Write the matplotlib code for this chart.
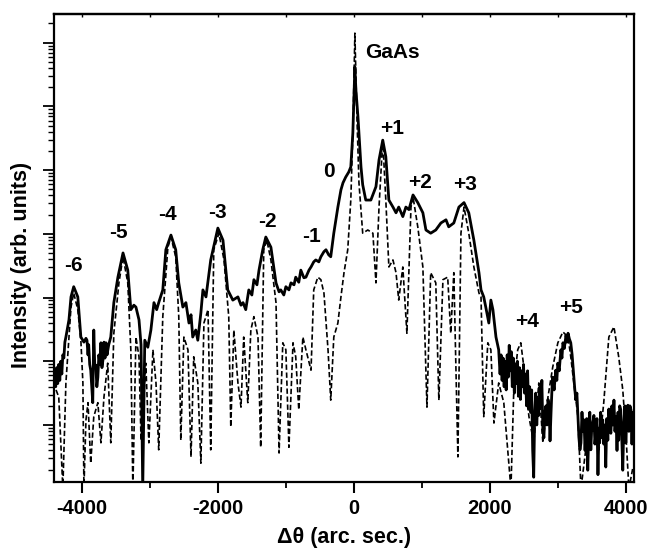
import numpy as np
import matplotlib
matplotlib.use("Agg")
import matplotlib.pyplot as plt
from matplotlib.ticker import LogLocator, NullFormatter, MultipleLocator

plt.rcParams['font.family'] = ['Liberation Sans', 'DejaVu Sans']
plt.rcParams['font.weight'] = 'bold'
plt.rcParams['axes.unicode_minus'] = False

# experimental curve: (angle in arc sec, log10 intensity)
exp_points = [
    (-4400, 1.85), (-4385, 1.60), (-4370, 1.90), (-4355, 1.65), (-4340, 1.95), (-4325, 1.70),
    (-4310, 2.00), (-4295, 1.80), (-4280, 2.10), (-4265, 2.05), (-4250, 2.30), (-4235, 2.38),
    (-4190, 2.65), (-4160, 3.01), (-4120, 3.17), (-4060, 3.01), (-4015, 2.38), (-3970, 2.30),
    (-3940, 2.36), (-3925, 2.33), (-3910, 2.10), (-3900, 2.26), (-3885, 1.95), (-3870, 1.86),
    (-3855, 1.60), (-3840, 1.35), (-3825, 2.49), (-3810, 1.90), (-3795, 1.94), (-3780, 1.60),
    (-3765, 1.75), (-3750, 2.10), (-3735, 1.95), (-3720, 2.29), (-3705, 1.90), (-3690, 2.02),
    (-3675, 2.30), (-3660, 2.05), (-3645, 2.29), (-3630, 2.10), (-3605, 2.26), (-3575, 2.38),
    (-3530, 2.92), (-3470, 3.32), (-3395, 3.70), (-3325, 3.43), (-3280, 2.81), (-3235, 2.88),
    (-3205, 2.85), (-3160, 2.65), (-3130, 2.26), (-3105, 0.00), (-3075, 2.33), (-3030, 2.22),
    (-2985, 2.49), (-2940, 2.92), (-2900, 2.81), (-2870, 2.92), (-2810, 3.12), (-2765, 3.75),
    (-2690, 3.98), (-2620, 3.75), (-2575, 3.23), (-2515, 2.85), (-2470, 2.92), (-2425, 2.60),
    (-2395, 2.73), (-2370, 2.38), (-2325, 2.49), (-2295, 2.33), (-2250, 2.76), (-2220, 3.12),
    (-2175, 3.01), (-2105, 3.59), (-2000, 4.09), (-1925, 3.90), (-1855, 3.12), (-1780, 2.96),
    (-1705, 3.01), (-1660, 2.88), (-1630, 2.92), (-1590, 2.81), (-1545, 3.12), (-1500, 3.04),
    (-1470, 3.28), (-1425, 3.20), (-1395, 3.43), (-1340, 3.75), (-1295, 3.95), (-1220, 3.79),
    (-1145, 3.23), (-1100, 3.09), (-1075, 3.12), (-1030, 3.04), (-1000, 3.17), (-955, 3.12),
    (-925, 3.23), (-880, 3.20), (-855, 3.32), (-810, 3.24), (-780, 3.43), (-735, 3.31),
    (-705, 3.32), (-660, 3.43), (-630, 3.48), (-590, 3.56), (-560, 3.59), (-515, 3.56),
    (-485, 3.64), (-440, 3.72), (-410, 3.75), (-370, 3.67), (-340, 3.64), (-295, 4.01),
    (-235, 4.42), (-190, 4.69), (-160, 4.80), (-120, 4.89), (-75, 4.97), (-45, 5.05),
    (-15, 5.58), (15, 6.62), (30, 6.26), (60, 5.84), (105, 5.05), (130, 4.77), (175, 4.53),
    (250, 4.53), (325, 4.74), (370, 5.16), (425, 5.47), (470, 5.21), (515, 4.53), (575, 4.42),
    (620, 4.33), (660, 4.42), (720, 4.27), (765, 4.42), (810, 4.38), (870, 4.61), (940, 4.49),
    (1015, 4.33), (1060, 4.06), (1130, 4.01), (1205, 4.06), (1280, 4.17), (1355, 4.22),
    (1395, 4.11), (1470, 4.17), (1545, 4.42), (1620, 4.49), (1690, 4.33), (1765, 3.90),
    (1840, 3.39), (1870, 3.12), (1910, 3.01), (1940, 2.85), (1985, 2.60), (2015, 2.96),
    (2045, 2.81), (2090, 2.38), (2130, 2.18), (2150, 1.80), (2165, 2.10), (2180, 1.70),
    (2195, 2.05), (2210, 1.60), (2225, 2.00), (2240, 1.55), (2255, 2.10), (2270, 1.75),
    (2285, 2.25), (2300, 1.85), (2315, 2.15), (2330, 1.60), (2345, 2.05), (2360, 1.50),
    (2375, 1.95), (2390, 1.65), (2405, 2.00), (2420, 1.45), (2435, 1.90), (2450, 1.40),
    (2465, 1.85), (2480, 1.60), (2495, 1.95), (2510, 1.50), (2525, 1.80), (2540, 1.30),
    (2555, 1.85), (2570, 1.25), (2585, 1.60), (2600, 1.20), (2615, 1.55), (2630, 0.60),
    (2645, 0.18), (2660, 1.20), (2675, 1.50), (2690, 1.00), (2705, 1.40), (2720, 1.15),
    (2735, 1.60), (2750, 1.30), (2765, 1.70), (2780, 0.90), (2795, 0.80), (2810, 1.20),
    (2825, 1.30), (2840, 1.00), (2855, 1.40), (2870, 1.30), (2885, 0.75), (2900, 1.20),
    (2915, 1.60), (2925, 1.75), (2945, 1.55), (2970, 1.86), (2985, 1.70), (3000, 1.97),
    (3020, 1.85), (3045, 2.18), (3060, 2.05), (3075, 2.29), (3095, 2.20), (3120, 2.41),
    (3135, 2.30), (3150, 2.44), (3170, 2.35), (3190, 2.29), (3210, 2.10), (3235, 1.75),
    (3250, 1.55), (3265, 1.39), (3280, 1.50), (3295, 1.13), (3310, 0.80), (3325, 0.61),
    (3340, 0.72), (3355, 1.20), (3370, 0.90), (3385, 1.08), (3400, 0.60), (3410, 0.87),
    (3425, 1.10), (3440, 0.29), (3455, 0.90), (3470, 1.20), (3485, 0.61), (3500, 1.00),
    (3515, 0.92), (3530, 1.15), (3545, 0.70), (3560, 0.87), (3575, 1.10), (3590, 0.22),
    (3605, 0.95), (3615, 0.72), (3630, 1.20), (3645, 0.80), (3660, 1.08), (3675, 0.70),
    (3690, 1.00), (3705, 0.34), (3720, 1.10), (3735, 0.76), (3750, 1.25), (3765, 0.95),
    (3780, 0.87), (3795, 1.30), (3810, 1.00), (3825, 1.39), (3840, 0.90), (3855, 1.13),
    (3870, 0.60), (3885, 1.20), (3895, 0.76), (3910, 1.30), (3925, 1.24), (3940, 0.80),
    (3955, 0.29), (3970, 1.00), (3985, 1.30), (4000, 0.72), (4015, 1.10), (4030, 1.31),
    (4045, 0.90), (4060, 1.30), (4075, 1.24), (4090, 0.70), (4105, 1.20), (4120, 0.87),
]

# simulated curve: (angle in arc sec, log10 intensity)
sim_points = [
    (-4380, 1.55), (-4340, 1.44), (-4280, 0.00), (-4235, 1.66), (-4160, 2.85), (-4120, 3.07),
    (-4060, 2.81), (-4015, 2.33), (-3985, 1.66), (-3970, 0.00), (-3940, 1.08), (-3910, 1.35),
    (-3870, 0.40), (-3825, 1.13), (-3765, 1.35), (-3720, 0.72), (-3675, 1.44), (-3620, 1.97),
    (-3575, 0.72), (-3530, 2.44), (-3455, 3.23), (-3395, 3.64), (-3325, 3.23), (-3280, 2.18),
    (-3250, 0.00), (-3205, 2.38), (-3160, 2.07), (-3130, 0.76), (-3060, 1.97), (-3015, 0.72),
    (-2955, 2.18), (-2910, 1.66), (-2870, 0.61), (-2810, 2.70), (-2735, 3.79), (-2690, 3.95),
    (-2620, 3.64), (-2575, 2.70), (-2545, 0.76), (-2500, 2.38), (-2440, 2.18), (-2395, 0.50),
    (-2355, 2.07), (-2295, 1.66), (-2250, 0.40), (-2205, 2.60), (-2145, 2.81), (-2105, 0.61),
    (-2060, 3.75), (-1985, 4.01), (-1910, 3.59), (-1840, 2.70), (-1810, 0.97), (-1765, 2.49),
    (-1705, 1.66), (-1660, 1.28), (-1620, 2.38), (-1560, 1.35), (-1515, 2.49), (-1470, 2.70),
    (-1410, 2.38), (-1370, 0.65), (-1325, 3.75), (-1280, 3.90), (-1220, 3.59), (-1145, 2.92),
    (-1100, 0.56), (-1045, 2.29), (-1000, 2.18), (-955, 0.65), (-895, 2.29), (-855, 2.07),
    (-810, 1.24), (-750, 2.38), (-705, 2.18), (-630, 1.86), (-590, 3.12), (-530, 3.32),
    (-485, 3.28), (-440, 3.07), (-380, 2.18), (-340, 1.39), (-295, 2.38), (-235, 2.60),
    (-190, 3.01), (-145, 3.39), (-90, 3.75), (-45, 4.53), (-15, 5.58), (15, 7.15),
    (45, 5.84), (75, 4.80), (130, 4.01), (205, 4.06), (280, 4.01), (325, 3.23), (370, 4.42),
    (425, 5.47), (470, 4.53), (515, 3.48), (575, 3.59), (620, 3.39), (660, 2.96), (720, 3.48),
    (780, 2.44), (840, 4.42), (870, 4.58), (940, 4.11), (1015, 3.48), (1075, 1.28), (1130, 3.39),
    (1205, 3.23), (1250, 1.39), (1310, 3.28), (1380, 3.32), (1425, 2.44), (1470, 3.39),
    (1530, 0.50), (1575, 4.01), (1620, 4.42), (1690, 4.01), (1765, 3.48), (1840, 3.07),
    (1870, 3.01), (1910, 1.13), (1970, 2.29), (2015, 2.18), (2060, 1.03), (2130, 1.66),
    (2205, 1.35), (2310, 0.00), (2355, 1.66), (2410, 2.18), (2455, 2.29), (2500, 1.91),
    (2575, 1.13), (2645, 0.72), (2720, 1.66), (2780, 0.72), (2855, 1.44), (2925, 1.91),
    (3000, 2.29), (3075, 2.46), (3150, 2.38), (3190, 2.07), (3235, 1.66), (3295, 1.13),
    (3340, 0.00), (3440, 0.87), (3530, 1.13), (3605, 0.61), (3675, 1.35), (3750, 2.38),
    (3825, 2.54), (3895, 2.07), (3955, 1.55), (4000, 0.87), (4045, 0.00), (4105, 0.34),
]

peak_labels = ['-6', '-5', '-4', '-3', '-2', '-1', '0', '+1', '+2', '+3', '+4', '+5', 'GaAs']
label_theta = [-4120, -3460, -2740, -2000, -1270, -620, -370, 560, 980, 1640, 2540, 3200, 570]
label_logI = [3.50, 4.02, 4.30, 4.34, 4.20, 3.96, 4.98, 5.65, 4.80, 4.77, 2.62, 2.84, 6.84]

exp_theta = np.array([p[0] for p in exp_points])
exp_logI = np.array([p[1] for p in exp_points])
sim_theta = np.array([p[0] for p in sim_points])
sim_logI = np.array([p[1] for p in sim_points])

fig = plt.figure(figsize=(6.52, 5.5), dpi=100)
ax = fig.add_axes([54/652, 1-482/550, 580/652, 468/550])

ax.plot(sim_theta, 10**sim_logI, color='black', lw=1.2, dashes=(3.2, 1.6))
ax.plot(exp_theta, 10**exp_logI, color='black', lw=2.0)

ax.set_yscale('log')
ax.set_xlim(-4410, 4120)
ax.set_ylim(10**0.105, 10**7.45)

for lab, x, l in zip(peak_labels, label_theta, label_logI):
    ax.text(x, 10**l, lab, ha='center', va='center', fontsize=15, fontweight='bold')

ax.xaxis.set_major_locator(MultipleLocator(2000))
ax.xaxis.set_minor_locator(MultipleLocator(1000))
ax.yaxis.set_major_locator(LogLocator(base=10, numticks=20))
ax.yaxis.set_minor_locator(LogLocator(base=10, subs=np.arange(2, 10), numticks=20))
ax.yaxis.set_major_formatter(NullFormatter())
ax.yaxis.set_minor_formatter(NullFormatter())

ax.tick_params(axis='x', which='major', direction='out', length=8, width=1.5,
               labelsize=14.5, pad=4, top=False)
ax.tick_params(axis='x', which='minor', direction='out', length=4, width=1.3, top=False)
ax.tick_params(axis='y', which='major', direction='out', length=8, width=1.3)
ax.tick_params(axis='y', which='minor', direction='out', length=4, width=1.0)
for lbl in ax.get_xticklabels():
    lbl.set_fontweight('bold')
for s in ax.spines.values():
    s.set_linewidth(1.6)

# small inward ticks on the top frame
top = ax.secondary_xaxis('top')
top.xaxis.set_major_locator(MultipleLocator(1000))
top.tick_params(axis='x', which='major', direction='in', length=2.5, width=1.0,
                labeltop=False)
top.xaxis.set_minor_locator(MultipleLocator(1000))
top.tick_params(axis='x', which='minor', length=0)
top.spines['top'].set_linewidth(1.6)

ax.set_xlabel('\u0394\u03b8 (arc. sec.)', fontsize=15.5, fontweight='bold', labelpad=7)
ax.set_ylabel('Intensity (arb. units)', fontsize=15.5, fontweight='bold')
ax.yaxis.set_label_coords(-0.038, 0.464)

fig.savefig('out.png', dpi=100)
